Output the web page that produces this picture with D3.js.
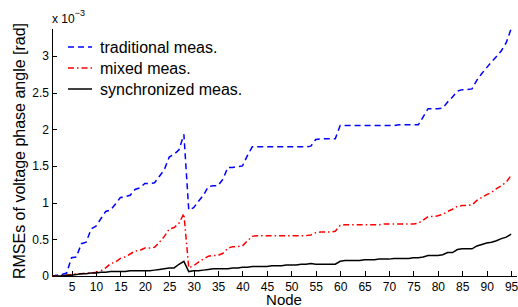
<!DOCTYPE html>
<meta charset="utf-8">
<style>
    body { margin: 0; background: #fff; }
    svg { display: block; font-family: "Liberation Sans", Arial, sans-serif; }
    .axis path, .axis line { stroke: #000; shape-rendering: crispEdges; }
    .axis text { font-size: 12px; fill: #000; }
    .line { fill: none; }
</style>
<svg width="518" height="307"></svg>
<script src="https://d3js.org/d3.v7.min.js"></script>
<script>

    // node numbers along the x axis
    const nodes = d3.range(1, 96);

    // RMSE values, in units of 1e-3 rad
    const traditional = [
        0.00, 0.01, 0.02, 0.04, 0.25, 0.26, 0.44, 0.46, 0.64, 0.68,
        0.78, 0.88, 0.90, 0.98, 1.07, 1.08, 1.10, 1.18, 1.20, 1.26,
        1.26, 1.27, 1.36, 1.45, 1.62, 1.66, 1.72, 1.93, 0.90, 0.93,
        1.02, 1.10, 1.22, 1.23, 1.23, 1.32, 1.48, 1.48, 1.49, 1.50,
        1.64, 1.76, 1.76, 1.76, 1.76, 1.76, 1.76, 1.76, 1.76, 1.76,
        1.76, 1.76, 1.76, 1.77, 1.86, 1.87, 1.87, 1.87, 1.87, 2.05,
        2.05, 2.05, 2.05, 2.05, 2.05, 2.05, 2.05, 2.05, 2.05, 2.05,
        2.05, 2.06, 2.06, 2.06, 2.06, 2.06, 2.17, 2.28, 2.28, 2.28,
        2.29, 2.37, 2.44, 2.52, 2.54, 2.54, 2.55, 2.67, 2.76, 2.84,
        2.92, 2.99, 3.07, 3.18, 3.37
    ];

    const mixed = [
        0.00, 0.00, 0.01, 0.01, 0.02, 0.03, 0.03, 0.04, 0.04, 0.05,
        0.07, 0.11, 0.17, 0.19, 0.24, 0.26, 0.30, 0.34, 0.35, 0.38,
        0.38, 0.39, 0.46, 0.54, 0.64, 0.66, 0.72, 0.85, 0.11, 0.14,
        0.19, 0.23, 0.27, 0.28, 0.28, 0.31, 0.38, 0.40, 0.40, 0.41,
        0.48, 0.54, 0.55, 0.55, 0.55, 0.55, 0.55, 0.55, 0.55, 0.55,
        0.55, 0.55, 0.55, 0.56, 0.59, 0.60, 0.60, 0.60, 0.61, 0.69,
        0.70, 0.70, 0.70, 0.70, 0.70, 0.70, 0.70, 0.70, 0.71, 0.71,
        0.71, 0.71, 0.71, 0.71, 0.71, 0.72, 0.76, 0.81, 0.81, 0.82,
        0.84, 0.88, 0.91, 0.95, 0.96, 0.96, 0.97, 1.03, 1.07, 1.11,
        1.14, 1.19, 1.23, 1.28, 1.37
    ];

    const synchronized = [
        0.00, 0.00, 0.00, 0.01, 0.01, 0.02, 0.03, 0.03, 0.04, 0.04,
        0.05, 0.05, 0.06, 0.06, 0.06, 0.06, 0.07, 0.07, 0.07, 0.07,
        0.07, 0.08, 0.09, 0.10, 0.11, 0.11, 0.16, 0.20, 0.06, 0.07,
        0.07, 0.08, 0.09, 0.10, 0.10, 0.10, 0.10, 0.11, 0.11, 0.12,
        0.12, 0.13, 0.13, 0.13, 0.13, 0.14, 0.14, 0.14, 0.15, 0.15,
        0.15, 0.16, 0.16, 0.17, 0.16, 0.16, 0.16, 0.16, 0.16, 0.20,
        0.21, 0.21, 0.21, 0.21, 0.22, 0.22, 0.22, 0.23, 0.23, 0.23,
        0.24, 0.24, 0.24, 0.24, 0.25, 0.25, 0.26, 0.28, 0.28, 0.28,
        0.29, 0.32, 0.32, 0.36, 0.37, 0.37, 0.37, 0.41, 0.43, 0.45,
        0.46, 0.48, 0.51, 0.53, 0.57
    ];

    const xTicks = d3.range(5, 96, 5);
    const yTicks = [0, 0.5, 1, 1.5, 2, 2.5, 3];
    const seriesNames = ["traditional meas.", "mixed meas.", "synchronized meas."];

    const series = [
        { name: seriesNames[0], values: traditional, color: "#0000ff", dash: "6,4" },
        { name: seriesNames[1], values: mixed, color: "#ff0000", dash: "6,3,1.5,3" },
        { name: seriesNames[2], values: synchronized, color: "#000", dash: null }
    ];

    // plot box (matlab style, only left and bottom axes)
    const plot = { left: 52, right: 516, top: 28, bottom: 276 };

    var svg = d3.select("svg");

    var x = d3.scaleLinear().domain([1, 96]).range([plot.left, plot.right]);
    var y = d3.scaleLinear().domain([0, 3.38]).range([plot.bottom, plot.top]);

    // axes, ticks pointing inward
    svg.append("g")
        .attr("class", "axis")
        .attr("transform", "translate(0," + plot.bottom + ")")
        .call(d3.axisBottom(x).tickValues(xTicks).tickSizeInner(-5).tickSizeOuter(0).tickPadding(6))
        .call(g => g.selectAll("text").attr("dy", "0.71em"));

    svg.append("g")
        .attr("class", "axis")
        .attr("transform", "translate(" + plot.left + ",0)")
        .call(d3.axisLeft(y).tickValues(yTicks).tickFormat(d3.format("")).tickSizeInner(-5).tickSizeOuter(0).tickPadding(3));

    var line = d3.line()
        .x(function(d, i) { return x(nodes[i]); })
        .y(function(d) { return y(d); });

    svg.selectAll(".line")
        .data(series)
        .enter().append("path")
        .attr("class", "line")
        .attr("d", function(d) { return line(d.values); })
        .attr("stroke", function(d) { return d.color; })
        .attr("stroke-width", 1.5)
        .attr("stroke-dasharray", function(d) { return d.dash; });

    // scale factor note
    var note = svg.append("text")
        .attr("x", plot.left)
        .attr("y", 23)
        .attr("font-size", 12)
        .text("x 10");
    note.append("tspan")
        .attr("dy", -7)
        .attr("font-size", 9)
        .text("−3");

    // axis labels
    svg.append("text")
        .attr("x", 284)
        .attr("y", 305)
        .attr("text-anchor", "middle")
        .attr("font-size", 15)
        .text("Node");

    svg.append("text")
        .attr("transform", "translate(25,151) rotate(-90)")
        .attr("text-anchor", "middle")
        .attr("font-size", 16)
        .text("RMSEs of voltage phase angle [rad]");

    // legend
    var legend = svg.selectAll(".legend")
        .data(series)
        .enter().append("g")
        .attr("class", "legend")
        .attr("transform", function(d, i) { return "translate(68," + (47 + i * 21) + ")"; });

    legend.append("line")
        .attr("x1", 0).attr("x2", 24)
        .attr("stroke", function(d) { return d.color; })
        .attr("stroke-width", 1.5)
        .attr("stroke-dasharray", function(d) { return d.dash; });

    legend.append("text")
        .attr("x", 32)
        .attr("dy", "0.35em")
        .attr("font-size", 16)
        .text(function(d) { return d.name; });

</script>
